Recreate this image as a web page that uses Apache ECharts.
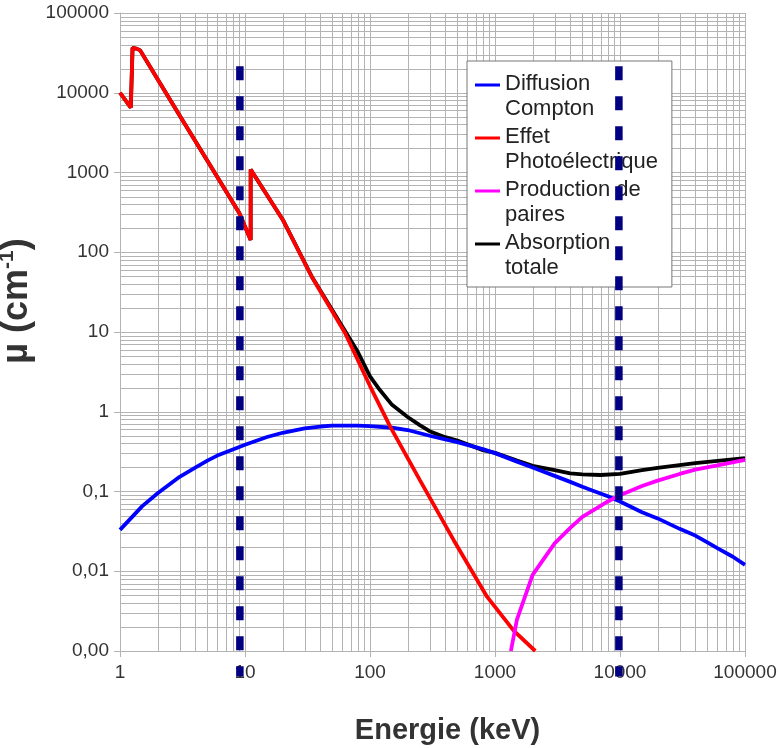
<!DOCTYPE html>
<html>
<head>
<meta charset="utf-8">
<script src="https://cdn.jsdelivr.net/npm/echarts@6/dist/echarts.min.js"></script>
<style>
  html, body { margin: 0; padding: 0; background: #fff; }
  #chart { width: 778px; height: 748px; }
</style>
</head>
<body>
<div id="chart"></div>
<script>
// tick labels (decades)
const xTickLabels = ['1', '10', '100', '1000', '10000', '100000'];
const yTickLabels = ['0,00', '0,01', '0,1', '1', '10', '100', '1000', '10000', '100000'];

// Diffusion Compton
const comptonEnergy = [1, 1.5, 2, 3, 4, 5, 6, 8, 10, 15, 20, 30, 40, 50, 60, 80, 100, 150, 200, 300, 400, 500, 600, 800, 1000, 1500, 2000, 3000, 4000, 5000, 6000, 8000, 10000, 15000, 20000, 30000, 40000, 50000, 60000, 80000, 100000];
const comptonValues = [0.033, 0.065, 0.095, 0.153, 0.199, 0.244, 0.282, 0.337, 0.386, 0.482, 0.545, 0.617, 0.653, 0.668, 0.67, 0.668, 0.66, 0.63, 0.59, 0.5, 0.45, 0.415, 0.385, 0.34, 0.303, 0.237, 0.2, 0.157, 0.132, 0.115, 0.103, 0.087, 0.075, 0.055, 0.046, 0.034, 0.028, 0.023, 0.0195, 0.0152, 0.012];

// Effet photoelectrique (L and K edges)
const photoEnergy = [1, 1.22, 1.26, 1.37, 1.45, 2, 3, 5, 9, 11.1, 11.1, 20, 34, 63, 100, 145, 250, 466, 863, 1410, 2100];
const photoValues = [10000, 6500, 36500, 35500, 34000, 14800, 5200, 1400, 310, 142, 1090, 258, 50, 9.8, 2.1, 0.65, 0.14, 0.0247, 0.0048, 0.0018, 0.001];

// Production de paires
const pairEnergy = [1340, 1500, 2000, 3000, 4000, 5000, 6000, 8000, 10000, 15000, 20000, 30000, 40000, 60000, 100000];
const pairValues = [0.001, 0.0025, 0.009, 0.0224, 0.035, 0.048, 0.057, 0.075, 0.09, 0.117, 0.137, 0.166, 0.188, 0.213, 0.25];

// Absorption totale
const totalEnergy = [1, 1.22, 1.26, 1.37, 1.45, 2, 3, 5, 9, 11.1, 11.1, 20, 34, 63, 80, 100, 120, 150, 200, 250, 300, 400, 500, 800, 1000, 1500, 2000, 3000, 4000, 5000, 7000, 10000, 15000, 20000, 40000, 100000];
const totalValues = [10000, 6500, 36500, 35500, 34000, 14800, 5200, 1400, 310, 142, 1090, 258, 50.5, 10.4, 5.6, 2.78, 1.87, 1.22, 0.86, 0.68, 0.57, 0.48, 0.435, 0.33, 0.305, 0.245, 0.21, 0.185, 0.169, 0.164, 0.161, 0.166, 0.185, 0.198, 0.227, 0.262];

// vertical dashed markers
const markerEnergy = [9.1, 9800];
const markerSpan = [21500, 0.00048];

const xMin = 1, xMax = 100000, yMin = 0.001, yMax = 100000;

function zip(xs, ys) {
  return xs.map((x, i) => [x, ys[i]]);
}

// minor log grid (2..9 in each decade)
const minorLines = [];
for (let d = 0; d < 5; d++) {
  for (let k = 2; k <= 9; k++) {
    const v = k * Math.pow(10, d);
    minorLines.push([v, yMin, v, yMax]);
  }
}
for (let d = -3; d < 5; d++) {
  for (let k = 2; k <= 9; k++) {
    const v = k * Math.pow(10, d);
    minorLines.push([xMin, v, xMax, v]);
  }
}

function renderGridLine(params, api) {
  const a = api.coord([api.value(0), api.value(1)]);
  const b = api.coord([api.value(2), api.value(3)]);
  return {
    type: 'line',
    silent: true,
    shape: {
      x1: Math.round(a[0]) + 0.5, y1: Math.round(a[1]) + 0.5,
      x2: Math.round(b[0]) + 0.5, y2: Math.round(b[1]) + 0.5
    },
    style: { stroke: '#b3b3b3', lineWidth: 1 }
  };
}

const gridColor = '#b3b3b3';
const font = 'Liberation Sans';
const lineWidth = 3.8;

const chart = echarts.init(document.getElementById('chart'));
const option = {
  animation: false,
  backgroundColor: '#fff',
  textStyle: { fontFamily: font },
  grid: { left: 120, right: 33, top: 13, bottom: 97, containLabel: false, outerBoundsMode: 'none' },
  legend: {
    data: ['Diffusion\nCompton', 'Effet\nPhotoélectrique', 'Production de\npaires', 'Absorption\ntotale'],
    orient: 'vertical',
    left: 467,
    top: 61,
    padding: [11, 14, 7, 8],
    itemWidth: 25,
    itemHeight: 48,
    itemGap: 4,
    icon: 'path://M0,0h0.01v0.01h-0.01z M0,22h50v6h-50z M0,95.99h0.01v0.01h-0.01z',
    backgroundColor: '#fff',
    borderColor: '#777',
    borderWidth: 1,
    borderRadius: 0,
    selectedMode: false,
    itemStyle: { borderWidth: 0 },
    textStyle: { fontSize: 22, lineHeight: 24.5, color: '#222', fontFamily: font }
  },
  xAxis: {
    type: 'log',
    logBase: 10,
    min: xMin,
    max: xMax,
    interval: 1,
    name: 'Energie (keV)',
    nameLocation: 'middle',
    nameGap: 65,
    nameTextStyle: { fontSize: 29, fontWeight: 'bold', color: '#333', fontFamily: font, padding: [0, 0, 0, 30] },
    axisLine: { show: true, lineStyle: { color: gridColor, width: 1 } },
    axisTick: { show: true, length: 6, lineStyle: { color: gridColor } },
    axisLabel: {
      fontSize: 19, color: '#333', margin: 12,
      formatter: v => xTickLabels[Math.round(Math.log10(v))]
    },
    splitLine: { show: true, lineStyle: { color: gridColor, width: 1 } },
    minorTick: { show: false },
    minorSplitLine: { show: false }
  },
  yAxis: {
    type: 'log',
    logBase: 10,
    min: yMin,
    max: yMax,
    interval: 1,
    name: '{a|µ (cm}{b|-1}{a|)}',
    nameLocation: 'middle',
    nameRotate: 90,
    nameGap: 68,
    nameTextStyle: {
      padding: [0, 0, 0, 62],
      rich: {
        a: { fontSize: 36, fontWeight: 'bold', color: '#333', fontFamily: font, lineHeight: 40 },
        b: { fontSize: 21, fontWeight: 'bold', color: '#333', fontFamily: font, verticalAlign: 'top', lineHeight: 40 }
      }
    },
    axisLine: { show: true, lineStyle: { color: gridColor, width: 1 } },
    axisTick: { show: true, length: 6, lineStyle: { color: gridColor } },
    axisLabel: {
      fontSize: 19, color: '#333', margin: 11,
      formatter: v => yTickLabels[Math.round(Math.log10(v)) + 3]
    },
    splitLine: { show: true, lineStyle: { color: gridColor, width: 1 } },
    minorTick: { show: false },
    minorSplitLine: { show: false }
  },
  series: [
    {
      name: 'minor grid',
      type: 'custom',
      silent: true,
      z: 1,
      renderItem: renderGridLine,
      encode: { x: [0, 2], y: [1, 3] },
      data: minorLines
    },
    {
      name: 'Absorption\ntotale',
      type: 'line',
      data: zip(totalEnergy, totalValues),
      showSymbol: false,
      color: '#000000',
      lineStyle: { color: '#000000', width: lineWidth }
    },
    {
      name: 'Diffusion\nCompton',
      type: 'line',
      data: zip(comptonEnergy, comptonValues),
      showSymbol: false,
      color: '#0000ff',
      lineStyle: { color: '#0000ff', width: lineWidth }
    },
    {
      name: 'Effet\nPhotoélectrique',
      type: 'line',
      data: zip(photoEnergy, photoValues),
      showSymbol: false,
      color: '#ff0000',
      lineStyle: { color: '#ff0000', width: lineWidth }
    },
    {
      name: 'Production de\npaires',
      type: 'line',
      data: zip(pairEnergy, pairValues),
      showSymbol: false,
      color: '#ff00ff',
      lineStyle: { color: '#ff00ff', width: lineWidth }
    },
    {
      name: 'seuil 1',
      type: 'line',
      data: [[markerEnergy[0], markerSpan[0]], [markerEnergy[0], markerSpan[1]]],
      showSymbol: false,
      clip: false,
      silent: true,
      z: 10,
      color: '#000080',
      lineStyle: { color: '#000080', width: 7.5, type: [14, 16], cap: 'butt' }
    },
    {
      name: 'seuil 2',
      type: 'line',
      data: [[markerEnergy[1], markerSpan[0]], [markerEnergy[1], markerSpan[1]]],
      showSymbol: false,
      clip: false,
      silent: true,
      z: 10,
      color: '#000080',
      lineStyle: { color: '#000080', width: 7.5, type: [14, 16], cap: 'butt' }
    }
  ]
};
chart.setOption(option);
</script>
</body>
</html>
